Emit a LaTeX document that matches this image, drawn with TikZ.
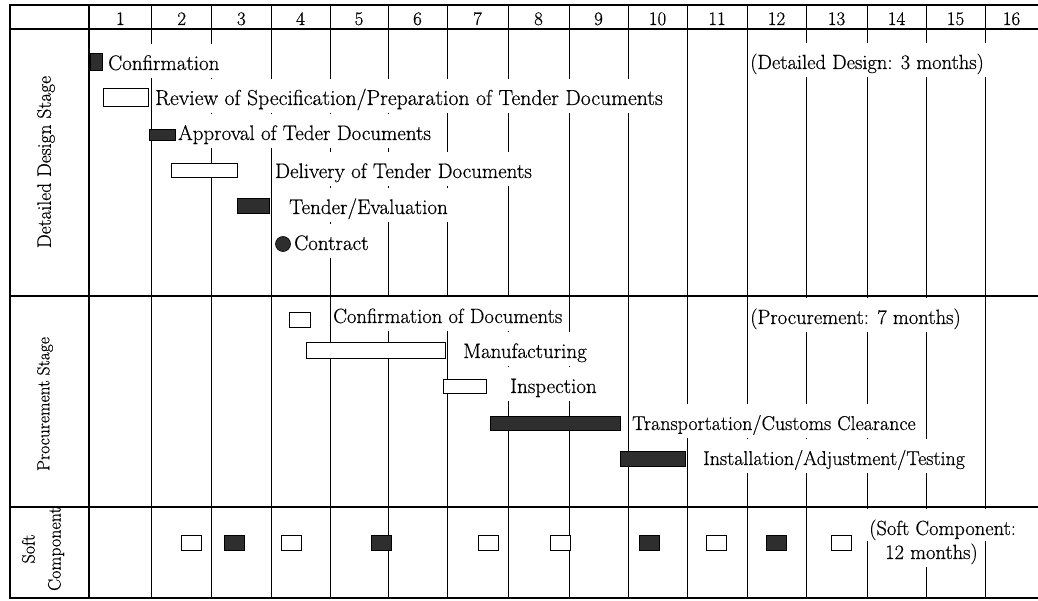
\documentclass[tikz,border=0pt]{standalone}
\usepackage{fontspec}
\setmainfont{Latin Modern Roman}[FakeBold=0.5]
\begin{document}
\begin{tikzpicture}[x=1pt,y=-1pt,
  vline/.style={line width=0.8pt},
  hline/.style={line width=1.6pt},
  lbl/.style={anchor=base west, fill=white, inner xsep=2pt, inner ysep=0pt,
    text height=26pt, text depth=8pt, font=\fontsize{21}{24}\selectfont},
  wbar/.style={draw, fill=white, line width=0.9pt, inner sep=0pt, outer sep=0pt},
  dbar/.style={draw, fill=black!82, line width=0.6pt, inner sep=0pt, outer sep=0pt},
  hdr/.style={anchor=base, font=\fontsize{19}{22}\selectfont},
  stage/.style={rotate=90, align=center}
]
\useasboundingbox (0,0) rectangle (1038,601);
\fill[white] (0,0) rectangle (1038,601);

% vertical grid lines
\foreach \x in {151.7,211.7,271,330,388,447,508,569,628,687,747,806,867,926,985}
  \draw[vline] (\x,5) -- (\x,598);

% header numbers
\foreach \n/\x in {1/120.35,2/181.7,3/241.35,4/300.5,5/359,6/417.5,7/477.5,8/538.5,
  9/598.5,10/657.5,11/717,12/776.5,13/836.5,14/896.5,15/955.5,16/1011.5}
  \node[hdr] (h\n) at (\x,25) {\n};

% Detailed design texts
\node[lbl] (t1) at (106,70) {Confirmation};
\node[lbl, font=\fontsize{21.7}{24}\selectfont] (t2) at (153,105) {Review of Specification/Preparation of Tender Documents};
\node[lbl] (t3) at (176,140) {Approval of Teder Documents};
\node[lbl] (t4) at (273,178) {Delivery of Tender Documents};
\node[lbl] (t5) at (287,214) {Tender/Evaluation};
\node[lbl] (t6) at (292,250) {Contract};
\node[lbl, font=\fontsize{20.5}{24}\selectfont] (t7) at (748,69) {(Detailed Design: 3 months)};

% Procurement texts
\node[lbl, font=\fontsize{20.6}{24}\selectfont] (p1t) at (331,323) {Confirmation of Documents};
\node[lbl] (p2t) at (461,358) {Manufacturing};
\node[lbl] (p3t) at (508,393) {Inspection};
\node[lbl, font=\fontsize{20}{24}\selectfont] (p4t) at (630,430) {Transportation/Customs Clearance};
\node[lbl, font=\fontsize{20}{24}\selectfont] (p5t) at (701,465) {Installation/Adjustment/Testing};
\node[lbl, font=\fontsize{20.6}{24}\selectfont] (p6t) at (748,324) {(Procurement: 7 months)};

% Soft component texts
\node[lbl, text height=18pt, font=\fontsize{20.5}{24}\selectfont] (s2t) at (883,559) {12 months)};
\node[lbl, text depth=6pt, font=\fontsize{20.5}{24}\selectfont] (s1t) at (867,535) {(Soft Component:};

% stage labels
\node[stage, font=\fontsize{19.5}{26}\selectfont] (st1) at (46,162) {Detailed Design Stage};
\node[stage, font=\fontsize{17.5}{26}\selectfont] (st2) at (45,404) {Procurement Stage};
\node[stage, font=\fontsize{18}{26}\selectfont] (st3) at (43,549) {Soft\\Component};

% frame and horizontal lines
\draw[hline] (89,5) -- (89,598);
\draw[hline] (10,29) -- (1038,29);
\draw[hline] (10,296) -- (1038,296);
\draw[hline] (10,507) -- (1038,507);
\draw[line width=1.4pt] (1038,5) -- (10,5) -- (10,598) -- (1038,598);

% Detailed design bars
\node[dbar, minimum width=12, minimum height=17] (b1) at (96,61.5) {};
\node[wbar, minimum width=45, minimum height=18] (b2) at (125.5,97) {};
\node[dbar, minimum width=26, minimum height=11] (b3) at (162,135) {};
\node[wbar, minimum width=66, minimum height=14] (b4) at (204,170) {};
\node[dbar, minimum width=32, minimum height=15] (b5) at (253,205.5) {};
\node[circle, draw, fill=black!82, line width=0.6pt, minimum size=15, inner sep=0pt] (b6) at (283,244) {};

% Procurement bars
\node[wbar, minimum width=21, minimum height=15] (q1) at (299.5,319.5) {};
\node[wbar, minimum width=139, minimum height=16] (q2) at (375.5,350) {};
\node[wbar, minimum width=43, minimum height=14] (q3) at (464.5,386) {};
\node[dbar, minimum width=130, minimum height=14] (q4) at (555,423) {};
\node[dbar, minimum width=65, minimum height=15] (q5) at (652.5,458.5) {};

% Soft component boxes
\foreach \nm/\x/\s in {r1/191/wbar, r2/234.5/dbar, r3/291.5/wbar, r4/381/dbar, r5/488/wbar,
  r6/560/wbar, r7/649/dbar, r8/716.5/wbar, r9/776/dbar, r10/841.5/wbar}
  \node[\s, minimum width=20, minimum height=15] (\nm) at (\x,542.5) {};
\end{tikzpicture}
\end{document}
